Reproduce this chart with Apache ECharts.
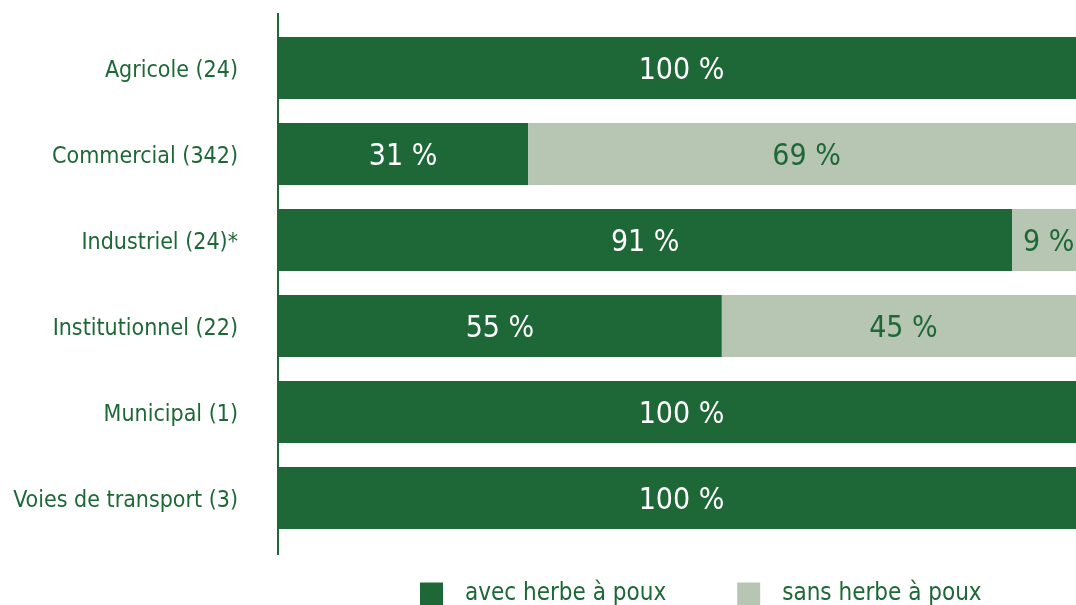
<!DOCTYPE html>
<html>
<head>
<meta charset="utf-8">
<script src="https://cdn.jsdelivr.net/npm/echarts@6/dist/echarts.min.js"></script>
<style>
  html, body { margin: 0; padding: 0; background: #fff; overflow: hidden; }
  #chart { width: 1076px; height: 605px; }
</style>
</head>
<body>
<div id="chart"></div>
<script>
const categories = ['Agricole (24)', 'Commercial (342)', 'Industriel (24)*', 'Institutionnel (22)', 'Municipal (1)', 'Voies de transport (3)']
const avecHerbe = [100, 31, 91, 55, 100, 100]
const sansHerbe = [0, 69, 9, 45, 0, 0]

const dark = '#1e6837'
const light = '#b7c5b3'
const font = '"Liberation Sans Narrow", "DejaVu Sans Condensed", sans-serif'

const chart = echarts.init(document.getElementById('chart'))
chart.setOption({
  animation: false,
  textStyle: { fontFamily: font },
  // la barre à 100 % dépasse légèrement le bord droit de l'image
  grid: { left: 278, width: 807, top: 25, height: 516, outerBoundsMode: 'none', containLabel: false },
  legend: {
    top: 582,
    left: 420,
    padding: 0,
    itemWidth: 23,
    itemHeight: 23,
    itemGap: 71,
    icon: 'rect',
    textStyle: { color: dark, fontSize: 24, fontFamily: font, padding: [0, 0, 0, 17] },
    data: ['avec herbe à poux', 'sans herbe à poux']
  },
  xAxis: { type: 'value', min: 0, max: 100, show: false },
  yAxis: {
    type: 'category',
    inverse: true,
    data: categories,
    axisLine: { show: false },
    axisTick: { show: false },
    axisLabel: {
      margin: 40,
      formatter: v => '{c|' + v + '}',
      rich: { c: { color: dark, fontSize: 23, fontFamily: font, padding: [6, 0, 0, 0] } }
    }
  },
  graphic: [{
    type: 'line',
    shape: { x1: 278, y1: 13, x2: 278, y2: 555 },
    style: { stroke: dark, lineWidth: 2 }
  }],
  series: [
    {
      name: 'avec herbe à poux',
      type: 'bar',
      stack: 'total',
      barWidth: 62,
      data: avecHerbe,
      itemStyle: { color: dark },
      label: {
        show: true,
        color: '#fff',
        fontSize: 30,
        fontFamily: font,
        offset: [0, 3],
        formatter: p => p.value > 0 ? p.value + ' %' : ''
      }
    },
    {
      name: 'sans herbe à poux',
      type: 'bar',
      stack: 'total',
      barWidth: 62,
      data: sansHerbe,
      itemStyle: { color: light },
      label: {
        show: true,
        color: dark,
        fontSize: 30,
        fontFamily: font,
        offset: [0, 3],
        formatter: p => p.value > 0 ? p.value + ' %' : ''
      }
    }
  ]
})
</script>
</body>
</html>
